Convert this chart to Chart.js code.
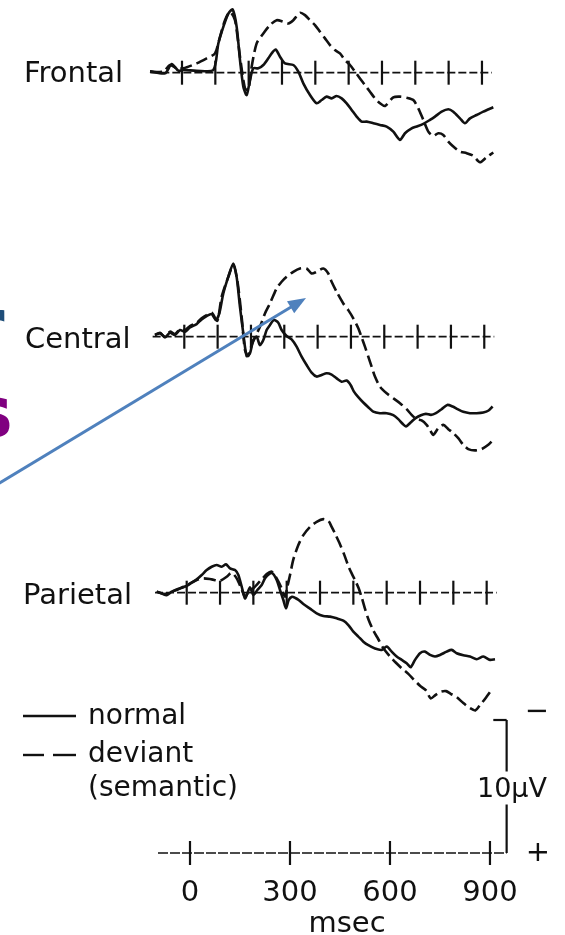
<!DOCTYPE html>
<html>
<head>
<meta charset="utf-8">
<script src="https://cdn.jsdelivr.net/npm/chart.js@4.4.1/dist/chart.umd.min.js"></script>
<style>
  html, body { margin: 0; padding: 0; background: #fff; }
  #wrap { position: relative; width: 565px; height: 935px; overflow: hidden; }
</style>
</head>
<body>
<div id="wrap"><canvas id="erp" width="565" height="935"></canvas></div>
<script>
// ERP traces: [time in ms, amplitude in µV] (negative is plotted up)
const sites = ['Frontal', 'Central', 'Parietal'];
const conditions = ['normal', 'deviant', '(semantic)'];
const timeTicks = [0, 300, 600, 900];
const sweepTicks = [0, 100, 200, 300, 400, 500, 600, 700, 800, 900];
const calibration = 10; // µV
const timeUnit = 'msec';

const frontalNormal = [[-96,-0.1],[-51,0.05],[-31,-0.65],[-11,-0.15],[4,-0.2],[44,-0.15],[94,-0.2],[109,-2.2],[124,-3.45],[139,-4.45],[152,-4.75],[164,-3.45],[174,-0.95],[184,1.05],[194,1.68],[204,0.55],[214,-0.33],[229,-0.33],[244,-0.58],[259,-1.08],[269,-1.45],[281,-1.75],[294,-1.2],[309,-0.7],[334,-0.58],[349,-0.08],[364,0.8],[384,1.68],[404,2.3],[419,2.05],[434,1.8],[449,1.93],[464,1.75],[479,1.93],[494,2.3],[509,2.8],[524,3.3],[539,3.68],[554,3.68],[574,3.8],[594,3.93],[614,4.05],[634,4.43],[654,5.05],[669,4.55],[689,4.18],[704,4.05],[724,3.85],[744,3.55],[759,3.3],[779,2.93],[799,2.75],[814,2.93],[834,3.43],[849,3.8],[864,3.43],[884,3.18],[904,2.93],[934,2.6]];
const frontalDeviant = [[-96,-0.08],[-56,-0.08],[-36,-0.58],[-16,-0.33],[4,-0.33],[44,-0.7],[74,-1.08],[99,-1.45],[114,-2.7],[129,-3.95],[144,-4.58],[159,-3.95],[174,-1.2],[189,1.18],[199,1.3],[209,-0.45],[224,-2.2],[244,-2.95],[264,-3.58],[284,-3.95],[304,-3.83],[319,-3.7],[334,-3.95],[354,-4.5],[369,-4.33],[384,-3.95],[399,-3.58],[414,-3.08],[429,-2.58],[444,-2.08],[459,-1.7],[474,-1.45],[489,-0.95],[504,-0.58],[519,-0.08],[534,0.43],[549,0.93],[564,1.43],[579,1.93],[594,2.3],[609,2.5],[634,1.85],[654,1.8],[674,1.88],[694,2.05],[709,2.68],[724,3.55],[739,4.43],[754,4.75],[769,4.55],[784,4.68],[799,5.18],[814,5.55],[834,5.93],[854,6.05],[874,6.25],[894,6.73],[914,6.35],[934,6.0]];

const centralNormal = [[-88,-0.13],[-73,-0.3],[-58,0.05],[-43,-0.3],[-28,-0.13],[-13,-0.5],[2,-0.38],[17,-0.7],[37,-0.95],[52,-1.3],[67,-1.55],[82,-1.7],[95,-1.25],[105,-1.75],[117,-3.25],[132,-4.5],[147,-5.5],[157,-4.5],[167,-2.25],[177,-0.25],[187,1.45],[197,1.25],[207,0.25],[217,0],[227,0.63],[237,0.25],[247,-0.5],[257,-0.88],[269,-1.25],[282,-1.05],[292,-0.5],[307,-0.05],[322,0.2],[337,0.75],[352,1.5],[367,2.13],[382,2.7],[397,3.0],[412,2.88],[427,2.75],[442,2.85],[457,3.13],[472,3.38],[487,3.3],[499,3.63],[509,4.13],[522,4.55],[537,4.95],[552,5.3],[567,5.63],[587,5.75],[607,5.75],[627,5.9],[642,6.2],[655,6.55],[665,6.75],[679,6.45],[695,6.1],[710,5.9],[725,5.8],[740,5.88],[755,5.75],[772,5.45],[789,5.13],[805,5.25],[820,5.45],[837,5.65],[857,5.75],[877,5.75],[897,5.7],[913,5.55],[925,5.25]];
const centralDeviant = [[-88,-0.13],[-73,-0.25],[-58,0],[-43,-0.38],[-28,-0.2],[-13,-0.55],[2,-0.5],[17,-0.8],[37,-1.05],[52,-1.38],[67,-1.63],[82,-1.8],[99,-1.2],[112,-3.0],[132,-4.5],[147,-5.38],[159,-4.25],[172,-1.5],[182,1.0],[192,1.45],[202,0.63],[212,0.05],[227,-0.75],[242,-1.75],[257,-2.5],[277,-3.63],[292,-4.13],[307,-4.5],[327,-4.88],[347,-5.13],[367,-5.13],[382,-4.75],[397,-4.88],[417,-5.13],[432,-4.75],[442,-4.13],[457,-3.38],[477,-2.5],[492,-2.0],[507,-1.38],[522,-0.63],[532,0.05],[542,0.75],[552,1.5],[562,2.25],[572,3.0],[587,3.75],[607,4.25],[627,4.63],[647,5.0],[667,5.45],[682,5.88],[697,6.2],[712,6.3],[727,6.63],[737,7.0],[747,7.38],[762,6.88],[777,6.63],[792,6.95],[807,7.25],[822,7.63],[837,8.13],[852,8.45],[872,8.55],[892,8.45],[912,8.13],[927,7.75]];

const parietalNormal = [[-90,-0.08],[-75,0.05],[-60,0.18],[-45,-0.08],[-30,-0.2],[-15,-0.4],[0,-0.5],[15,-0.75],[30,-1.0],[45,-1.33],[60,-1.7],[75,-1.95],[90,-2.08],[105,-1.95],[118,-2.13],[130,-1.83],[145,-1.7],[155,-1.33],[165,-0.45],[175,0.43],[182,0.05],[190,-0.4],[200,0.18],[212,-0.2],[225,-0.58],[235,-1.08],[247,-1.4],[258,-1.45],[270,-0.95],[280,-0.2],[290,0.55],[298,1.18],[306,0.55],[316,0.3],[326,0.4],[336,0.55],[350,0.85],[370,1.2],[390,1.55],[410,1.75],[430,1.8],[450,1.93],[470,2.1],[485,2.43],[500,2.93],[515,3.3],[530,3.68],[545,3.95],[565,4.2],[585,4.3],[600,4.05],[615,4.43],[630,4.8],[645,5.05],[660,5.3],[672,5.6],[685,5.05],[700,4.55],[715,4.43],[730,4.68],[745,4.8],[760,4.68],[780,4.43],[795,4.3],[810,4.55],[830,4.7],[850,4.8],[870,5.0],[890,4.8],[910,5.05],[925,5.0]];
const parietalDeviant = [[-90,-0.08],[-70,0.1],[-50,0],[-30,-0.25],[-10,-0.4],[10,-0.7],[30,-0.95],[50,-1.08],[75,-1.0],[100,-0.9],[120,-1.2],[135,-1.5],[150,-1.08],[165,-0.25],[175,0.3],[188,-0.15],[200,-0.33],[212,-0.65],[225,-1.0],[240,-1.4],[255,-1.58],[270,-1.08],[285,-0.33],[295,0.3],[302,-0.45],[310,-1.33],[320,-2.5],[335,-3.58],[350,-4.33],[370,-4.95],[390,-5.33],[410,-5.53],[425,-5.4],[435,-4.95],[445,-4.45],[458,-3.75],[472,-2.9],[485,-2.0],[495,-1.45],[505,-0.95],[516,-0.33],[526,0.43],[536,1.3],[546,2.05],[560,2.85],[575,3.5],[590,4.18],[610,4.8],[627,5.25],[645,5.68],[665,6.1],[682,6.55],[700,7.0],[718,7.35],[732,7.95],[746,7.7],[762,7.45],[778,7.4],[792,7.6],[810,7.85],[830,8.3],[850,8.68],[866,8.85],[880,8.45],[896,7.95],[918,7.18]];

const traces = [
  [frontalNormal, frontalDeviant],
  [centralNormal, centralDeviant],
  [parietalNormal, parietalDeviant]
];

// page layout (pixels)
const W = 565, H = 935;
const PX_MS = 0.3333, PX_UV = 13.3;
const INK = '#111';
const panels = [
  { x0: 182, y0: 72.7, labelX: 24, labelY: 82 },
  { x0: 184.3, y0: 336.7, labelX: 25, labelY: 348 },
  { x0: 186.7, y0: 592.7, labelX: 23, labelY: 604 }
];
const foot = { x0: 190, y0: 853 };

function xAxis(x0) {
  const min = -x0 / PX_MS;
  return { type: 'linear', axis: 'x', display: false, min: min, max: min + W / PX_MS };
}
function yAxis(y0) {
  const min = -y0 / PX_UV;
  return { type: 'linear', axis: 'y', display: false, reverse: true, min: min, max: min + H / PX_UV };
}

const scales = { xs: xAxis(foot.x0), ys: yAxis(foot.y0) };
const datasets = [];
panels.forEach((p, i) => {
  scales['x' + i] = xAxis(p.x0);
  scales['y' + i] = yAxis(p.y0);
  traces[i].forEach((pts, k) => {
    datasets.push({
      label: sites[i] + ' ' + conditions[k],
      data: pts.map(d => ({ x: d[0], y: d[1] })),
      xAxisID: 'x' + i,
      yAxisID: 'y' + i,
      showLine: true,
      borderColor: INK,
      borderWidth: 2.6,
      borderDash: k === 1 ? [12, 5] : [],
      pointRadius: 0,
      tension: 0.25,
      fill: false
    });
  });
});

function seg(ctx, x1, y1, x2, y2) {
  ctx.beginPath();
  ctx.moveTo(x1, y1);
  ctx.lineTo(x2, y2);
  ctx.stroke();
}

const extras = {
  id: 'extras',
  beforeDatasetsDraw(chart) {
    const ctx = chart.ctx;
    ctx.save();
    ctx.strokeStyle = INK;
    // sweep baselines with 100 ms ticks
    panels.forEach((p, i) => {
      const xs = chart.scales['x' + i], ys = chart.scales['y' + i];
      const y = ys.getPixelForValue(0);
      ctx.lineWidth = 1.7;
      ctx.setLineDash([8, 3]);
      seg(ctx, xs.getPixelForValue(-95), y, xs.getPixelForValue(930), y);
      ctx.setLineDash([]);
      ctx.lineWidth = 2.2;
      sweepTicks.forEach(t => {
        const x = xs.getPixelForValue(t);
        seg(ctx, x, y - 12, x, y + 12);
      });
    });
    // time scale and calibration bar
    const xs = chart.scales.xs, ys = chart.scales.ys;
    const y0 = ys.getPixelForValue(0), yTop = ys.getPixelForValue(-calibration);
    const xBar = xs.getPixelForValue(950);
    ctx.lineWidth = 1.7;
    ctx.setLineDash([10, 2]);
    seg(ctx, xs.getPixelForValue(-96), y0, xBar, y0);
    ctx.setLineDash([]);
    ctx.lineWidth = 2.2;
    timeTicks.forEach(t => {
      const x = xs.getPixelForValue(t);
      seg(ctx, x, y0 - 12, x, y0 + 12);
    });
    const yMid = (y0 + yTop) / 2;
    seg(ctx, xBar, y0, xBar, yMid + 18);
    seg(ctx, xBar, yMid - 15, xBar, yTop);
    seg(ctx, xBar, yTop, xs.getPixelForValue(910), yTop);
    ctx.restore();
  },
  afterDatasetsDraw(chart) {
    const ctx = chart.ctx;
    const xs = chart.scales.xs, ys = chart.scales.ys;
    ctx.save();
    ctx.fillStyle = INK;
    ctx.strokeStyle = INK;
    ctx.font = '29px "DejaVu Sans"';
    ctx.textBaseline = 'alphabetic';
    ctx.textAlign = 'left';
    panels.forEach((p, i) => ctx.fillText(sites[i], p.labelX, p.labelY));

    // legend
    ctx.lineWidth = 2.4;
    seg(ctx, 23, 716, 76, 716);
    seg(ctx, 23, 755, 44, 755);
    seg(ctx, 53, 755, 76, 755);
    ctx.font = '28px "DejaVu Sans"';
    ctx.fillText(conditions[0], 88, 724);
    ctx.fillText(conditions[1], 88, 762);
    ctx.fillText(conditions[2], 88, 796);

    // time labels
    ctx.font = '29px "DejaVu Sans"';
    ctx.textAlign = 'center';
    timeTicks.forEach(t => ctx.fillText(String(t), xs.getPixelForValue(t), 901));
    ctx.fillText(timeUnit, 347, 932);

    // calibration labels
    const yMid = (ys.getPixelForValue(0) + ys.getPixelForValue(-calibration)) / 2;
    ctx.font = '27px "DejaVu Sans"';
    ctx.fillText(calibration + 'µV', 512, yMid + 10);
    ctx.font = '29px "DejaVu Sans"';
    ctx.textBaseline = 'middle';
    ctx.fillText('\u2212', 537, 712);
    ctx.fillText('+', 538, 853);

    // slide arrow
    const ax = -2, ay = 484, tx = 306, ty = 298;
    const ang = Math.atan2(ty - ay, tx - ax);
    ctx.strokeStyle = '#4f81bd';
    ctx.fillStyle = '#4f81bd';
    ctx.lineWidth = 3;
    seg(ctx, ax, ay, tx - 14 * Math.cos(ang), ty - 14 * Math.sin(ang));
    ctx.beginPath();
    ctx.moveTo(tx, ty);
    ctx.lineTo(tx - 18 * Math.cos(ang) + 7 * Math.sin(ang), ty - 18 * Math.sin(ang) - 7 * Math.cos(ang));
    ctx.lineTo(tx - 18 * Math.cos(ang) - 7 * Math.sin(ang), ty - 18 * Math.sin(ang) + 7 * Math.cos(ang));
    ctx.closePath();
    ctx.fill();

    // cut-off slide text at the left edge
    ctx.textAlign = 'left';
    ctx.textBaseline = 'alphabetic';
    ctx.font = 'bold 72px "DejaVu Sans"';
    ctx.fillStyle = '#1f4e79';
    ctx.fillText('r', -31, 350);
    ctx.fillStyle = '#800080';
    ctx.fillText('s', -30, 437);
    ctx.restore();
  }
};

new Chart(document.getElementById('erp'), {
  type: 'scatter',
  data: { datasets: datasets },
  options: {
    responsive: false,
    animation: false,
    devicePixelRatio: 1,
    layout: { padding: 0 },
    scales: scales,
    plugins: { legend: { display: false }, tooltip: { enabled: false } }
  },
  plugins: [extras]
});
</script>
</body>
</html>
